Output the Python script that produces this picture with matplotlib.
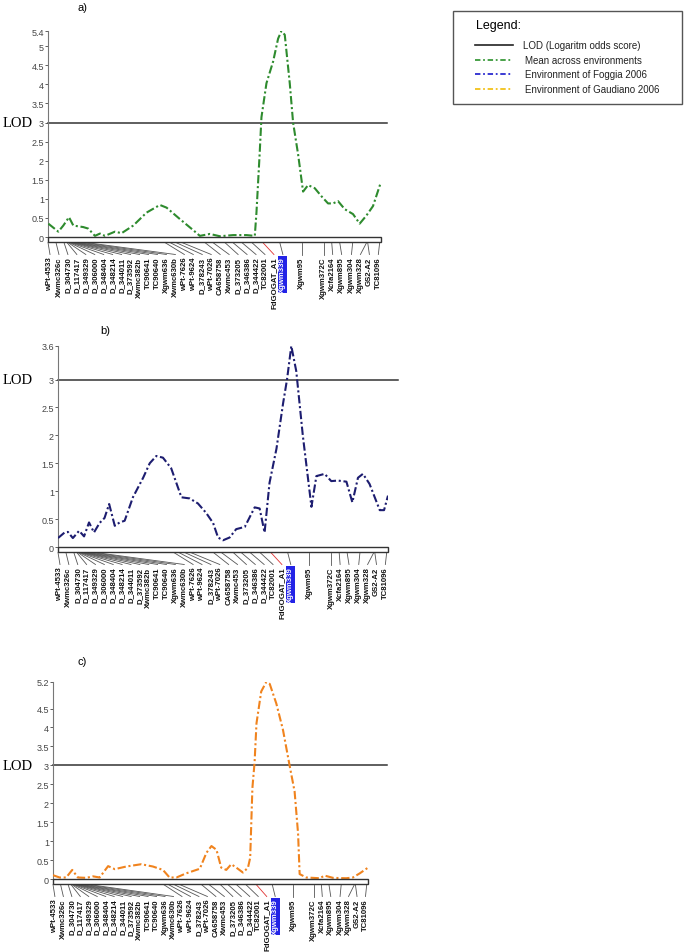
import numpy as np
import matplotlib
matplotlib.use("Agg")
import matplotlib.pyplot as plt
from matplotlib import transforms
from matplotlib.patches import Rectangle
from matplotlib.lines import Line2D

plt.rcParams['font.family'] = ['Liberation Sans', 'DejaVu Sans']

# markers along the chromosome (position in cM)
markers = ['wPt-4533', 'Xwmc326c', 'D_304730', 'D_117417', 'D_349329', 'D_306000',
           'D_348404', 'D_348214', 'D_344011', 'D_373592', 'Xwmc382b', 'TC90641',
           'TC90640', 'Xgwm636', 'Xwmc630b', 'wPt-7626', 'wPt-9624', 'D_378243',
           'wPt-7026', 'CA658758', 'Xwmc453', 'D_373205', 'D_346386', 'D_344422',
           'TC82001', 'FdGOGAT_A1', 'Xgwm339', 'Xgwm95', 'Xgwm372C', 'Xcfa2164',
           'Xgwm895', 'Xgwm304', 'Xgwm328', 'GS2-A2', 'TC81096']
marker_cm = [0, 2.4, 4.8, 5.7, 6.0, 6.3, 6.6, 6.9, 7.2, 7.5, 7.8, 8.4, 9.0, 10.2, 11.4,
             35.1, 36.6, 38.4, 40.2, 47.1, 49.5, 53.1, 55.5, 58.2, 61.2, 64.5, 69.6,
             76.2, 82.8, 85.2, 87.6, 91.5, 95.7, 96.0, 99.6]
highlight = 'Xgwm339'
red_marker = 'FdGOGAT_A1'

# a) mean across environments
pos_a = [0.1, 3.1, 4.6, 6.3, 7.6, 10.6, 12.1, 14.1, 15.6, 17.1, 20.1, 22.1, 25.6, 29.6,
         33.6, 35.6, 39.6, 43.6, 45.6, 48.6, 51.6, 55.6, 59.6, 62.1, 62.6, 63.6, 64.1,
         65.6, 67.6, 69.1, 70.1, 71.1, 72.6, 73.6, 75.1, 76.6, 78.1, 80.1, 82.1, 84.1,
         85.6, 87.1, 89.1, 91.6, 93.6, 95.6, 97.6, 99.9]
lod_a = [0.35, 0.14, 0.3, 0.52, 0.3, 0.26, 0.22, 0.03, 0.09, 0.03, 0.14, 0.1, 0.3, 0.64,
         0.84, 0.77, 0.47, 0.18, 0.03, 0.08, 0.02, 0.05, 0.05, 0.03, 0.64, 2.25, 3.14,
         4.03, 4.6, 5.2, 5.4, 5.3, 4.03, 3.0, 2.17, 1.19, 1.36, 1.28, 1.07, 0.88,
         0.88, 0.94, 0.73, 0.6, 0.35, 0.56, 0.81, 1.42]

# b) Foggia 2006
pos_b = [0, 2.0, 3.0, 4.5, 6.4, 7.9, 9.4, 10.9, 12.6, 14.1, 15.5, 17.2, 18.7, 20.2, 22.7,
         25.8, 27.8, 29.8, 31.8, 34.3, 37.4, 39.9, 42.4, 44.9, 47.0, 48.5, 50.0, 52.0,
         54.0, 56.6, 59.6, 61.1, 62.6, 64.1, 66.2, 68.2, 69.4, 70.7, 72.2, 74.2, 76.8,
         78.3, 80.8, 82.8, 84.8, 87.4, 89.2, 90.9, 92.4, 94.4, 97.5, 98.8, 100]
lod_b = [0.16, 0.26, 0.27, 0.16, 0.29, 0.19, 0.44, 0.26, 0.43, 0.52, 0.77, 0.38, 0.44,
         0.47, 0.89, 1.24, 1.5, 1.63, 1.6, 1.41, 0.89, 0.87, 0.78, 0.61, 0.43, 0.17,
         0.12, 0.17, 0.32, 0.36, 0.71, 0.69, 0.26, 1.15, 1.76, 2.57, 3.0, 3.6, 3.15,
         1.99, 0.72, 1.27, 1.31, 1.18, 1.19, 1.17, 0.8, 1.24, 1.31, 1.13, 0.66, 0.66,
         0.92]

# c) Gaudiano 2006
pos_c = [0, 2.1, 4.2, 6.1, 7.9, 10.6, 12.7, 14.8, 17.5, 19.6, 23.3, 28.0, 31.7, 34.9,
         37.0, 39.2, 42.3, 46.6, 48.7, 50.3, 51.9, 53.4, 55.0, 56.6, 58.2, 60.3, 61.9,
         62.6, 63.3, 64.0, 64.6, 66.1, 67.7, 68.8, 70.9, 73.0, 75.1, 76.7, 77.8, 78.3,
         80.4, 84.7, 86.2, 88.9, 93.1, 95.2, 97.4, 100]
lod_c = [0.1, 0.04, 0.04, 0.24, 0.04, 0.03, 0.07, 0.04, 0.34, 0.26, 0.33, 0.39, 0.33,
         0.24, 0.04, 0.04, 0.15, 0.27, 0.69, 0.87, 0.77, 0.3, 0.24, 0.39, 0.3, 0.17,
         0.3, 0.56, 2.4, 3.09, 4.11, 4.95, 5.2, 5.15, 4.63, 3.94, 3.0, 2.31, 1.2, 0.13,
         0.04, 0.02, 0.09, 0.03, 0.02, 0.04, 0.15, 0.3]

ticks_a = [0, 0.5, 1, 1.5, 2, 2.5, 3, 3.5, 4, 4.5, 5, 5.4]
ticks_b = [0, 0.5, 1, 1.5, 2, 2.5, 3, 3.6]
ticks_c = [0, 0.5, 1, 1.5, 2, 2.5, 3, 3.5, 4, 4.5, 5.2]
threshold = 3

legend_items = ['LOD (Logaritm odds score)', 'Mean across environments',
                'Environment of Foggia 2006', 'Environment of Gaudiano 2006']

W, H = 685, 953
fig = plt.figure(figsize=(W / 100, H / 100), dpi=100)


def fx(px):
    return px / W


def fy(py):
    return 1 - py / H


# spread label positions so they do not overlap
gap = 2.69
lab_x = list(marker_cm)
lab_x[0] = 0.6
for i in range(1, len(lab_x)):
    lab_x[i] = max(lab_x[i], lab_x[i - 1] + gap)
lab_x[-1] = min(lab_x[-1], 99.2)
for i in range(len(lab_x) - 2, -1, -1):
    lab_x[i] = min(lab_x[i], lab_x[i + 1] - gap)


def panel(left, right, y0, ytop, pos, lod, ticks, color, tag, tag_xy, ext):
    hpx = y0 - ytop
    ax = fig.add_axes([fx(left), fy(y0), (right - left) / W, hpx / H])
    ax.plot([0, 100 + ext / (right - left) * 100], [threshold, threshold],
            color='#333333', lw=1.1, clip_on=False, zorder=1)
    ax.plot(pos, lod, color=color, lw=1.5, dashes=(4, 1.3, 1, 1.3), zorder=3)
    ax.set_xlim(0, 100)
    ax.set_ylim(0, ticks[-1])
    ax.set_yticks(ticks)
    ax.set_yticklabels(['%g' % t for t in ticks])
    ax.set_xticks([])
    for s in ['top', 'right', 'bottom']:
        ax.spines[s].set_visible(False)
    ax.spines['left'].set_color('#777777')
    ax.spines['left'].set_linewidth(0.8)
    ax.tick_params(axis='y', labelsize=6.5, colors='#444444', length=2, width=0.6, pad=1)

    tr = transforms.blended_transform_factory(ax.transData, ax.transAxes)

    def off(p):
        return -p / hpx

    ax.add_patch(Rectangle((0, off(5)), 100, 5 / hpx, transform=tr, fc='white',
                           ec='#333333', lw=1, clip_on=False, zorder=4))
    for name, m, lx in zip(markers, marker_cm, lab_x):
        c = '#e03030' if name == red_marker else '#555555'
        ax.plot([m, lx], [off(5.5), off(17.5)], transform=tr, color=c, lw=0.6,
                clip_on=False)
        kw = dict(transform=tr, rotation=90, ha='center', va='top', fontsize=5.6,
                  fontweight='bold', color='#111111', clip_on=False)
        if name == highlight:
            kw['color'] = 'white'
            kw['bbox'] = dict(boxstyle='square,pad=0.12', fc='#2323e6', ec='none')
        ax.text(lx, off(19.5), name, **kw)

    ylod = fy(y0) + threshold / ticks[-1] * hpx / H
    fig.text(fx(3), ylod, 'LOD', family='Liberation Serif', fontsize=10.5, va='center')
    fig.text(fx(tag_xy[0]), fy(tag_xy[1]), tag, fontsize=8, va='center')
    return ax


panel(48, 381, 238, 32, pos_a, lod_a, ticks_a, '#2e8b2e', 'a)', (77, 8), 6)
panel(58, 388, 548, 347, pos_b, lod_b, ticks_b, '#1d1d70', 'b)', (100, 331), 10)
panel(53, 368, 880, 683, pos_c, lod_c, ticks_c, '#f0831e', 'c)', (77, 662), 19)

# legend box
fig.patches.append(Rectangle((fx(453), fy(105)), (682 - 453) / W, (105 - 12) / H,
                             transform=fig.transFigure, fill=False, ec='#555555', lw=1))
fig.text(fx(476), fy(26), 'Legend:', fontsize=9, va='center')
leg_colors = ['#222222', '#3a9a3a', '#2b2bd0', '#f2c21a']
leg_y = [46, 61, 75, 90]
for txt, c, yy in zip(legend_items, leg_colors, leg_y):
    if c == '#222222':
        ln = Line2D([fx(475), fx(513)], [fy(yy), fy(yy)], color=c, lw=1.2,
                    transform=fig.transFigure)
        tx = 523
    else:
        ln = Line2D([fx(475), fx(511)], [fy(yy), fy(yy)], color=c, lw=1.3,
                    dashes=(3, 1.5, 1, 1.5), transform=fig.transFigure)
        tx = 525
    fig.lines.append(ln)
    fig.text(fx(tx), fy(yy), txt, fontsize=7, va='center', color='#222222')

fig.savefig('out.png', dpi=100)
